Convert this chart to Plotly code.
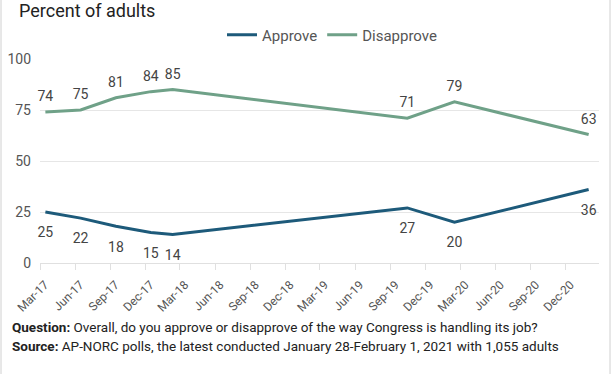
import plotly.graph_objects as go

dates = ["2017-03-15", "2017-06-15", "2017-09-15", "2017-12-15", "2018-02-10",
         "2019-10-15", "2020-02-15", "2021-01-30"]
approve = [25, 22, 18, 15, 14, 27, 20, 36]
disapprove = [74, 75, 81, 84, 85, 71, 79, 63]

tick_vals = ["2017-03-01", "2017-06-01", "2017-09-01", "2017-12-01",
             "2018-03-01", "2018-06-01", "2018-09-01", "2018-12-01",
             "2019-03-01", "2019-06-01", "2019-09-01", "2019-12-01",
             "2020-03-01", "2020-06-01", "2020-09-01", "2020-12-01"]
tick_text = ["Mar-17", "Jun-17", "Sep-17", "Dec-17", "Mar-18", "Jun-18", "Sep-18", "Dec-18",
             "Mar-19", "Jun-19", "Sep-19", "Dec-19", "Mar-20", "Jun-20", "Sep-20", "Dec-20"]

C_APP = "#1d5a7a"
C_DIS = "#6fa188"
FONT = "Roboto"

fig = go.Figure()
fig.add_trace(go.Scatter(
    x=dates, y=approve, name="Approve", mode="lines",
    line=dict(color=C_APP, width=3), cliponaxis=False,
))
fig.add_trace(go.Scatter(
    x=dates, y=disapprove, name="Disapprove", mode="lines",
    line=dict(color=C_DIS, width=3), cliponaxis=False,
))
fig.add_trace(go.Scatter(
    x=dates, y=approve, mode="markers+text", showlegend=False, hoverinfo="skip",
    marker=dict(size=22, opacity=0, color=C_APP),
    text=[str(v) for v in approve], textposition="bottom center",
    textfont=dict(size=14, color="#444444", family=FONT), cliponaxis=False,
))
fig.add_trace(go.Scatter(
    x=dates, y=disapprove, mode="markers+text", showlegend=False, hoverinfo="skip",
    marker=dict(size=10, opacity=0, color=C_DIS),
    text=[str(v) for v in disapprove], textposition="top center",
    textfont=dict(size=14, color="#444444", family=FONT), cliponaxis=False,
))

L, R, T, B = 40, 13, 59, 111
W, H = 612, 374
pw, ph = W - L - R, H - T - B

def px_x(x):
    return (x - L) / pw

def px_y(y):
    return (H - B - y) / ph

fig.update_layout(
    width=W, height=H,
    margin=dict(l=L, r=R, t=T, b=B, pad=0, autoexpand=False),
    paper_bgcolor="white", plot_bgcolor="white",
    font=dict(family=FONT, color="#444444"),
    showlegend=True,
    legend=dict(orientation="h", x=px_x(332), y=px_y(35), xanchor="center", yanchor="middle",
                font=dict(size=15, color="#555555", family=FONT),
                itemwidth=30, tracegroupgap=0, bgcolor="rgba(0,0,0,0)"),
    xaxis=dict(
        type="date", range=["2017-03-01", "2021-02-26"], automargin=False,
        tickmode="array", tickvals=tick_vals, ticktext=tick_text,
        tickangle=-45, tickfont=dict(size=12, color="#555555", family=FONT),
        ticklabelstandoff=3, ticklabelshift=5,
        showgrid=False, showline=True, linecolor="#e0e0e0", linewidth=1,
        ticks="outside", ticklen=6, tickcolor="#e0e0e0", zeroline=False,
    ),
    yaxis=dict(
        range=[0, 100], tickvals=[0, 25, 50, 75, 100], automargin=False,
        tickfont=dict(size=14, color="#555555", family=FONT),
        showgrid=True, gridcolor="#e6e6e6", gridwidth=1,
        zeroline=False, showline=False, ticks="", ticklabelstandoff=8,
    ),
    annotations=[
        dict(text="Percent of adults", xref="paper", yref="paper",
             x=px_x(17), y=px_y(11), xanchor="left", yanchor="middle",
             showarrow=False, font=dict(size=18, color="#222222", family=FONT)),
        dict(text="<b>Question:</b> Overall, do you approve or disapprove of the way Congress is handling its job?",
             xref="paper", yref="paper", x=px_x(10), y=px_y(327), xanchor="left", yanchor="middle",
             showarrow=False, font=dict(size=13.5, color="#222222", family=FONT)),
        dict(text="<b>Source:</b> AP-NORC polls, the latest conducted January 28-February 1, 2021 with 1,055 adults",
             xref="paper", yref="paper", x=px_x(10), y=px_y(346), xanchor="left", yanchor="middle",
             showarrow=False, font=dict(size=13.5, color="#222222", family=FONT)),
    ],
    shapes=[
        dict(type="line", xref="paper", yref="paper", x0=px_x(1), x1=px_x(1), y0=px_y(-5), y1=px_y(380),
             line=dict(color="#d0d0d0", width=1)),
        dict(type="line", xref="paper", yref="paper", x0=px_x(610), x1=px_x(610), y0=px_y(-5), y1=px_y(380),
             line=dict(color="#d0d0d0", width=1)),
    ],
)

fig.write_html("out.html", config={"displayModeBar": False},
               post_script="document.body.style.margin='0';document.body.style.padding='0';")
